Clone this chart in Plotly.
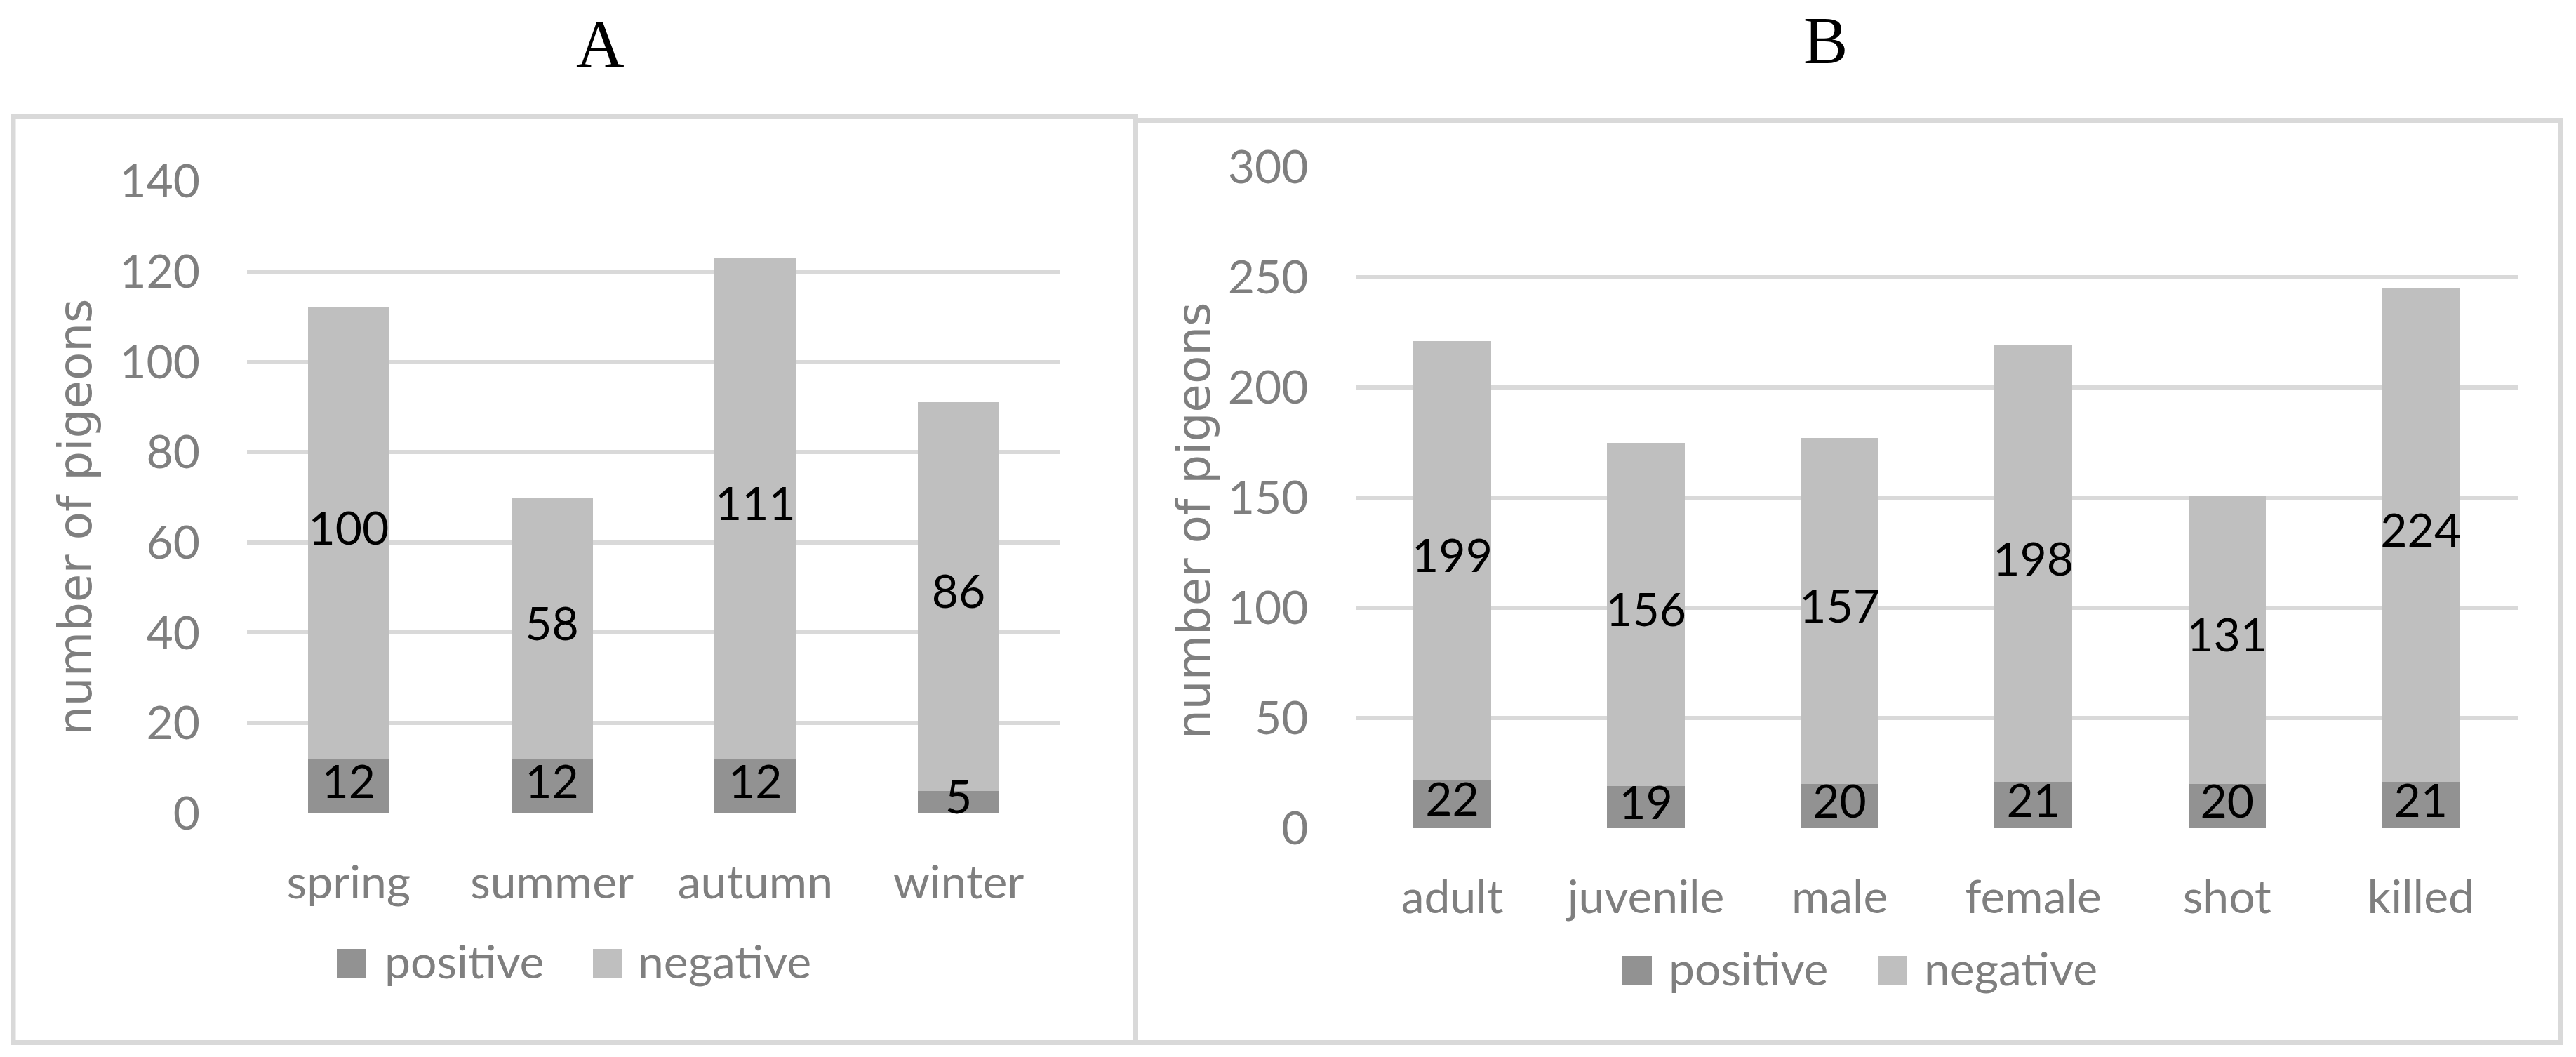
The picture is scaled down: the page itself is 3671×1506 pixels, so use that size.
import plotly.graph_objects as go

W, H = 3671, 1506

# ---------------- data ----------------
seasons = ["spring", "summer", "autumn", "winter"]
season_positive = [12, 12, 12, 5]
season_negative = [100, 58, 111, 86]

groups = ["adult", "juvenile", "male", "female", "shot", "killed"]
group_positive = [22, 19, 20, 21, 20, 21]
group_negative = [199, 156, 157, 198, 131, 224]

series_names = ["positive", "negative"]
series_colors = ["#929292", "#bfbfbf"]
panel_titles = ["A", "B"]
y_title = "number of pigeons"
yA_ticks = [0, 20, 40, 60, 80, 100, 120, 140]
yB_ticks = [0, 50, 100, 150, 200, 250, 300]

# ---------------- style ----------------
GRID = "#d9d9d9"
TXT = "#7f7f7f"
LBL_FONT = "Lato, Carlito, Calibri, 'Open Sans', sans-serif"
FS = 66


def px(x):
    return x / W


def py(y):
    return 1 - y / H


fig = go.Figure()

panels = [
    (seasons, season_positive, season_negative, "x", "y"),
    (groups, group_positive, group_negative, "x2", "y2"),
]
# stacked bars
for cats, pos, neg, xa, ya in panels:
    for name, vals, col in zip(series_names, [pos, neg], series_colors):
        fig.add_trace(go.Bar(
            x=cats, y=vals, name=name, xaxis=xa, yaxis=ya,
            marker=dict(color=col, line=dict(width=0)),
            showlegend=False, hoverinfo="skip",
        ))
# data labels (drawn on top of all bars, centred in each segment)
for cats, pos, neg, xa, ya in panels:
    pos_mid = [p / 2 for p in pos]
    neg_mid = [p + n / 2 for p, n in zip(pos, neg)]
    for mids, vals in [(pos_mid, pos), (neg_mid, neg)]:
        fig.add_trace(go.Scatter(
            x=cats, y=mids, xaxis=xa, yaxis=ya, mode="text",
            text=[str(v) for v in vals], textposition="middle center",
            textfont=dict(family=LBL_FONT, size=FS, color="black"),
            cliponaxis=False, showlegend=False, hoverinfo="skip",
        ))

axis_common_x = dict(showgrid=False, showline=False, zeroline=False, ticks="",
                     automargin=False,
                     tickfont=dict(family=LBL_FONT, size=FS, color=TXT),
                     ticklabelstandoff=54)
axis_common_y = dict(showgrid=True, gridcolor=GRID, gridwidth=6,
                     zeroline=False, showline=False, ticks="", automargin=False,
                     tickfont=dict(family=LBL_FONT, size=FS, color=TXT),
                     ticklabelstandoff=66)

fig.update_layout(
    template="none",
    width=W, height=H,
    margin=dict(l=0, r=0, t=0, b=0, pad=0),
    paper_bgcolor="white", plot_bgcolor="white",
    barmode="stack", bargap=0.6,
    showlegend=False,
    xaxis=dict(domain=[px(352), px(1511)], anchor="y", **axis_common_x),
    yaxis=dict(domain=[py(1158.7), py(258.3)], anchor="x", range=[0, 140],
               tickvals=yA_ticks, **axis_common_y),
    xaxis2=dict(domain=[px(1931.5), px(3587.8)], anchor="y2", **axis_common_x),
    yaxis2=dict(domain=[py(1180), py(238)], anchor="x2", range=[0, 300],
                tickvals=yB_ticks, **axis_common_y),
)

shapes = []
# frames
shapes.append(dict(type="rect", xref="paper", yref="paper",
                   x0=px(19), x1=px(1618.5), y0=py(1485.5), y1=py(166.3),
                   line=dict(color=GRID, width=7), fillcolor="rgba(0,0,0,0)", layer="below"))
shapes.append(dict(type="rect", xref="paper", yref="paper",
                   x0=px(1618.5), x1=px(3649), y0=py(1485.5), y1=py(171.5),
                   line=dict(color=GRID, width=7), fillcolor="rgba(0,0,0,0)", layer="below"))

annotations = []
# panel titles
for t, xc, yc in zip(panel_titles, [855, 2601], [63.5, 58]):
    annotations.append(dict(text=t, x=px(xc), y=py(yc), xref="paper", yref="paper",
                            xanchor="center", yanchor="middle", showarrow=False,
                            font=dict(family="Liberation Serif, Times New Roman, serif",
                                      size=95, color="black")))
# y-axis titles
for xc, yc in [(107, 737), (1701, 742)]:
    annotations.append(dict(text=y_title, x=px(xc), y=py(yc), xref="paper", yref="paper",
                            xanchor="center", yanchor="middle", textangle=-90,
                            showarrow=False,
                            font=dict(family="DejaVu Sans, Verdana, sans-serif",
                                      size=66, color=TXT)))

# manual legends (large square swatches)
legend_specs = [
    # (square x0 list, text x list, square top, square bottom)
    ([480, 845], [546, 907], 1352, 1394),
    ([2312, 2676], [2376, 2740], 1362, 1404),
]
for sq_x, tx_x, top, bot in legend_specs:
    for name, col, sx, tx in zip(series_names, series_colors, sq_x, tx_x):
        shapes.append(dict(type="rect", xref="paper", yref="paper",
                           x0=px(sx), x1=px(sx + 42), y0=py(bot), y1=py(top),
                           line=dict(width=0), fillcolor=col))
        annotations.append(dict(text=name, x=px(tx), y=py(bot - 25.5),
                                xref="paper", yref="paper",
                                xanchor="left", yanchor="middle", showarrow=False,
                                font=dict(family=LBL_FONT, size=FS, color=TXT)))

fig.update_layout(shapes=shapes, annotations=annotations)

fig.write_html(
    "out.html",
    config={"displayModeBar": False},
    post_script="document.body.style.margin='0';document.body.style.overflow='hidden';",
)
